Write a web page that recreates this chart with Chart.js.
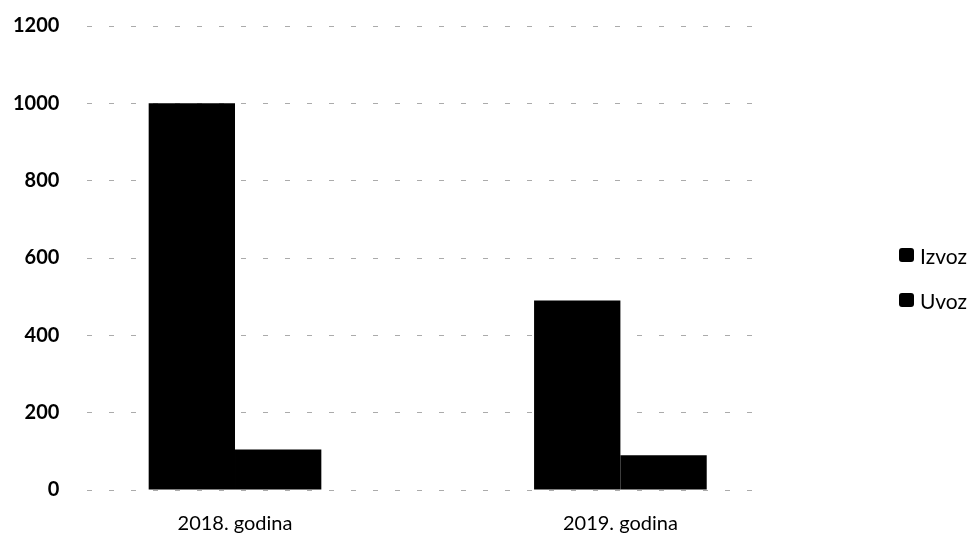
<!DOCTYPE html>
<html lang="hr">
<head>
  <meta charset="UTF-8">
  <title>Izvoz i uvoz</title>
  <script src="https://cdn.jsdelivr.net/npm/chart.js"></script>
  <style>
    body { margin: 0; background: #fff; font-family: Lato, sans-serif; }
    #wrap { position: relative; width: 975px; height: 537px; overflow: hidden; }
    /* legend drawn as plain html on the right side */
    .legend { position: absolute; left: 899px; top: 242px; font-size: 21px; color: #000; }
    .legend div { display: flex; align-items: center; height: 26px; margin-bottom: 19px; }
    .legend span.box { display: inline-block; width: 15px; height: 14px; background: #000; border-radius: 3px; margin-right: 6px; }
  </style>
</head>
<body>
  <div id="wrap">
    <canvas id="chart" width="975" height="537"></canvas>
    <div class="legend" id="legend"></div>
  </div>

  <script>
    // chart values
    const categories = ['2018. godina', '2019. godina'];
    const seriesNames = ['Izvoz', 'Uvoz'];
    const izvoz = [1000, 490];
    const uvoz = [105, 90];
    const yTicks = [0, 200, 400, 600, 800, 1000, 1200];

    // legend
    const legendDiv = document.getElementById('legend');
    seriesNames.forEach(name => {
      legendDiv.innerHTML += `<div><span class="box"></span>${name}</div>`;
    });

    const toPoints = arr => arr.map((v, i) => ({ x: i, y: v }));

    new Chart(document.getElementById('chart'), {
      type: 'bar',
      data: {
        datasets: [
          { label: seriesNames[0], data: toPoints(izvoz), backgroundColor: '#000' },
          { label: seriesNames[1], data: toPoints(uvoz), backgroundColor: '#000' }
        ]
      },
      options: {
        responsive: false,
        animation: false,
        categoryPercentage: 0.448,
        barPercentage: 1,
        // negative values pull the plot out to where the scan has it
        layout: { autoPadding: false, padding: { left: -15, right: 207, top: 26, bottom: -21 } },
        plugins: { legend: { display: false }, tooltip: { enabled: false } },
        scales: {
          x: {
            type: 'linear',
            offset: false,
            min: -0.383,
            max: 1.383,
            grid: { display: false, drawTicks: false },
            border: { display: false },
            afterBuildTicks: axis => { axis.ticks = categories.map((c, i) => ({ value: i })); },
            ticks: {
              callback: v => categories[v],
              color: '#000',
              padding: 22,
              font: { family: 'Lato', size: 20 }
            }
          },
          y: {
            min: 0,
            max: 1200,
            afterBuildTicks: axis => { axis.ticks = yTicks.map(v => ({ value: v })); },
            // tick padding would otherwise push the top of the plot down
            afterFit: axis => { axis.paddingTop = 0; },
            grid: { color: '#ababab', lineWidth: 1, drawTicks: false },
            border: { display: false, dash: [5, 17] },
            ticks: {
              callback: v => String(v),
              color: '#000',
              padding: 28,
              font: { family: 'Lato', size: 20, weight: 'bold' }
            }
          }
        }
      }
    });
  </script>
</body>
</html>
